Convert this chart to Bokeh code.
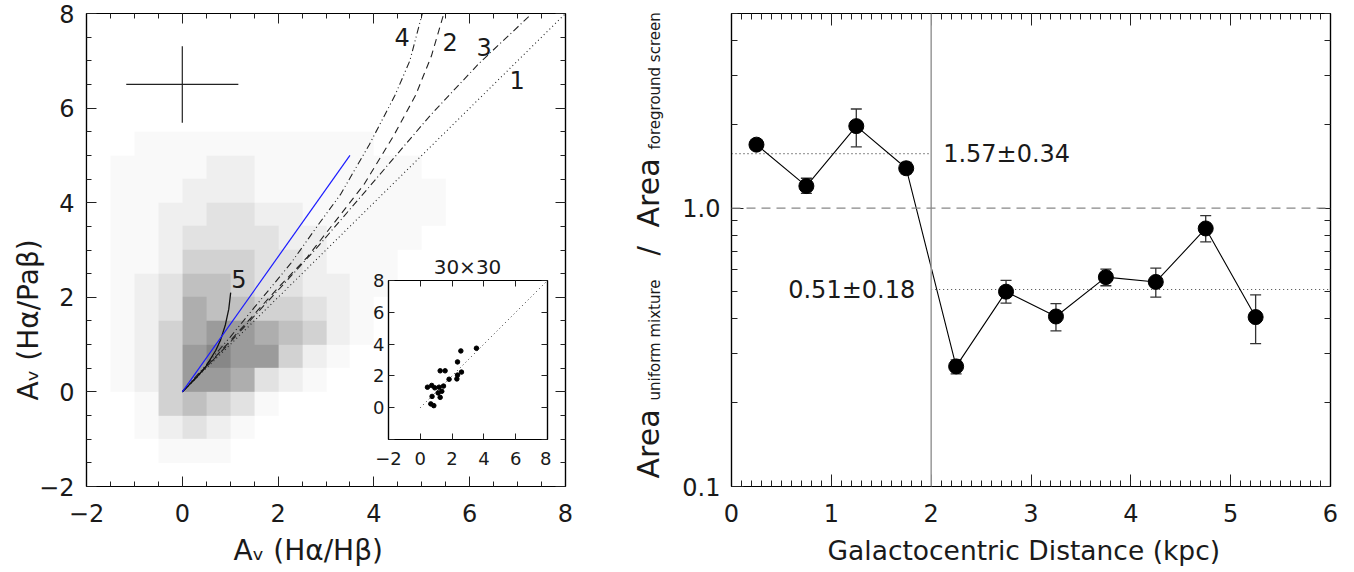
import numpy as np
from bokeh.plotting import figure
from bokeh.layouts import row
from bokeh.models import (Range1d, LinearAxis, LogAxis, Whisker, ColumnDataSource,
                          FixedTicker, Span, TeeHead, LinearColorMapper)
from bokeh.core.properties import value
from bokeh.embed import file_html
from bokeh.resources import INLINE

FONT = "DejaVu Sans"
TXT = "#1a1a1a"
PAGE_W, PAGE_H = 1352, 570
LEFT_W = 600

# ---------------- left panel data ----------------
# density of pixels (darkness 0..9), 0.5-unit cells, rows listed top (y=5.25) to bottom (y=-1.25)
dens_x0, dens_y0, dens_cell = -2.0, -1.5, 0.5
dens_rows = [
    "00111111111100000",
    "01111221111111000",
    "01112221111111100",
    "01122332211111100",
    "01123333221111000",
    "01124443321110000",
    "01235543322110000",
    "01236554432100000",
    "01246776542100000",
    "01247877421000000",
    "01247763210000000",
    "00145431000000000",
    "00123210000000000",
    "00011100000000000",
]
gray_levels = [255, 249, 239, 226, 210, 192, 174, 155, 135, 115]

err_center = [0.0, 6.5]
err_half = [1.17, 0.81]

blue_x = [0.0, 3.5]
blue_y = [0.0, 5.0]
c1_x = [0.0, 8.0]
c1_y = [0.0, 8.0]
c2_x = [0.0, 0.5, 1.0, 1.5, 2.0, 2.61, 3.15, 3.79, 4.42, 4.87, 5.2, 5.46]
c2_y = [0.0, 0.53, 1.08, 1.64, 2.2, 2.85, 3.55, 4.38, 5.43, 6.27, 7.1, 8.0]
c3_x = [0.0, 1.0, 2.0, 2.82, 4.0, 5.18, 6.2, 7.27]
c3_y = [0.0, 1.05, 2.15, 3.06, 4.45, 5.85, 6.95, 7.97]
c4_x = [0.0, 0.5, 1.0, 1.5, 2.26, 2.85, 3.30, 3.90, 4.44, 4.75, 5.01]
c4_y = [0.0, 0.57, 1.16, 1.78, 2.71, 3.55, 4.17, 5.22, 6.27, 7.0, 8.0]
c5_x = [0.0, 0.3, 0.5, 0.7, 0.8, 0.9, 0.97, 1.01]
c5_y = [0.0, 0.31, 0.55, 0.88, 1.1, 1.42, 1.75, 2.1]
curve_labels = ["4", "2", "3", "1", "5"]
curve_label_x = [4.59, 5.59, 6.30, 6.99, 1.18]
curve_label_y = [7.50, 7.39, 7.29, 6.60, 2.38]

left_ticks = [-2, 0, 2, 4, 6, 8]
left_minor = list(np.arange(-2, 8.01, 0.5))

# inset (30x30 binning)
inset_x = [0.45, 0.72, 0.91, 1.18, 1.46, 1.25, 1.56, 1.81, 1.12, 1.35, 0.74, 1.25, 0.66, 0.85,
           2.34, 2.55, 3.53, 2.59, 2.34, 2.30]
inset_y = [1.29, 1.40, 1.25, 1.29, 1.36, 2.32, 2.32, 1.79, 0.93, 1.03, 0.71, 0.65, 0.24, 0.13,
           2.88, 3.57, 3.74, 2.24, 2.05, 1.81]
inset_ticks = [-2, 0, 2, 4, 6, 8]

# ---------------- right panel data ----------------
dist = [0.25, 0.75, 1.25, 1.75, 2.25, 2.75, 3.25, 3.75, 4.25, 4.75, 5.25]
ratio = [1.69, 1.20, 1.97, 1.39, 0.270, 0.501, 0.408, 0.565, 0.543, 0.845, 0.406]
ratio_hi = [1.72, 1.28, 2.27, 1.46, 0.285, 0.550, 0.454, 0.604, 0.609, 0.940, 0.488]
ratio_lo = [1.66, 1.13, 1.66, 1.33, 0.254, 0.456, 0.362, 0.526, 0.479, 0.756, 0.326]
inner_mean, outer_mean = 1.57, 0.51
inner_text, outer_text = "1.57±0.34", "0.51±0.18"
split_r = 2.0
right_xticks = [0, 1, 2, 3, 4, 5, 6]
right_xminor = list(np.arange(0, 6.001, 0.1))
right_yticks = [0.1, 1.0]
right_yminor = [0.2, 0.3, 0.4, 0.5, 0.6, 0.7, 0.8, 0.9, 2, 3, 4, 5]

# ---------------- axis titles (text, page anchor x/y, rotation, size) ----------------
titles = [
    ("Aᵥ (Hα/Paβ)", 28, 400, np.pi / 2, "28px"),
    ("Aᵥ (Hα/Hβ)", 233, 550, 0.0, "28px"),
    ("Galactocentric Distance (kpc)", 827, 550, 0.0, "26.5px"),
    ("Area", 648, 478, np.pi / 2, "30px"),
    ("uniform mixture", 654, 400, np.pi / 2, "15px"),
    ("/", 648, 255, np.pi / 2, "28px"),
    ("Area", 648, 227, np.pi / 2, "30px"),
    ("foreground screen", 654, 149, np.pi / 2, "15px"),
]
inset_title = ("30×30", 467, 266, "20px")


def style_axis(ax, ticks, minor, show=True, fs="24px", standoff=12, overrides=None,
               tin=10, mtin=5):
    ax.ticker = FixedTicker(ticks=ticks, minor_ticks=minor)
    ax.major_tick_in = tin
    ax.major_tick_out = 0
    ax.minor_tick_in = mtin
    ax.minor_tick_out = 0
    ax.axis_line_color = "black"
    ax.axis_line_width = 1.2
    ax.major_tick_line_color = "#222"
    ax.minor_tick_line_color = "#222"
    ax.major_label_text_font = FONT
    if show:
        ax.major_label_text_color = TXT
        ax.major_label_text_font_size = fs
        ax.major_label_standoff = standoff
    else:
        ax.major_label_text_color = None
        ax.major_label_text_font_size = "1px"
        ax.major_label_standoff = -20
    if overrides:
        ax.major_label_overrides = overrides


# ================= left figure =================
p1 = figure(width=LEFT_W, height=PAGE_H, x_range=Range1d(-2, 8), y_range=Range1d(-2, 8),
            output_backend="svg", toolbar_location=None, title=None,
            min_border_left=86, min_border_right=35, min_border_top=13,
            min_border_bottom=PAGE_H - 486,
            background_fill_color="white", border_fill_color="white")
p1.xgrid.visible = False
p1.ygrid.visible = False
p1.outline_line_color = "black"
p1.outline_line_width = 1.2
neg = {-2: "−2"}
style_axis(p1.xaxis[0], left_ticks, left_minor, standoff=17, overrides=neg)
style_axis(p1.yaxis[0], left_ticks, left_minor, standoff=12, overrides=neg)
ax_t = LinearAxis()
style_axis(ax_t, left_ticks, left_minor, show=False)
p1.add_layout(ax_t, "above")
ax_r = LinearAxis()
style_axis(ax_r, left_ticks, left_minor, show=False)
p1.add_layout(ax_r, "right")

dens = np.array([[int(c) for c in r] for r in dens_rows[::-1]], dtype=float)
mapper = LinearColorMapper(palette=["#%02x%02x%02x" % (g, g, g) for g in gray_levels],
                           low=-0.5, high=9.5)
p1.image(image=[dens], x=dens_x0, y=dens_y0, dw=dens_cell * dens.shape[1],
         dh=dens_cell * dens.shape[0], color_mapper=mapper, level="image")

p1.segment(x0=[err_center[0] - err_half[0], err_center[0]],
           y0=[err_center[1], err_center[1] - err_half[1]],
           x1=[err_center[0] + err_half[0], err_center[0]],
           y1=[err_center[1], err_center[1] + err_half[1]],
           line_color="#222", line_width=1.2)

p1.line(c1_x, c1_y, line_color="#222", line_width=1.1, line_dash="1 3")
p1.line(c3_x, c3_y, line_color="#222", line_width=1.1, line_dash="7 3 1 3")
p1.line(c2_x, c2_y, line_color="#222", line_width=1.1, line_dash="7 5")
p1.line(c4_x, c4_y, line_color="#222", line_width=1.1, line_dash="7 3 1 3 1 3")
p1.line(c5_x, c5_y, line_color="#111", line_width=1.3)
p1.line(blue_x, blue_y, line_color="#1a1aff", line_width=1.2)
p1.text(x=curve_label_x, y=curve_label_y, text=curve_labels, text_font=value(FONT),
        text_font_size="24px", text_color=TXT, text_align="center", text_baseline="middle")

# ================= right figure =================
p2 = figure(width=PAGE_W - LEFT_W, height=PAGE_H, x_range=Range1d(0, 6),
            y_range=Range1d(0.1, 5), y_axis_type="log", output_backend="svg",
            toolbar_location=None, title=None,
            min_border_left=731 - LEFT_W, min_border_right=PAGE_W - 1330, min_border_top=5,
            min_border_bottom=PAGE_H - 486,
            background_fill_color="white", border_fill_color="white")
p2.xgrid.visible = False
p2.ygrid.visible = False
p2.outline_line_color = "black"
p2.outline_line_width = 1.2
style_axis(p2.xaxis[0], right_xticks, right_xminor, standoff=17, tin=12, mtin=6)
style_axis(p2.yaxis[0], right_yticks, right_yminor, standoff=11,
           overrides={0.1: "0.1", 1.0: "1.0"}, tin=12, mtin=6)
bt = LinearAxis()
style_axis(bt, right_xticks, right_xminor, show=False, tin=12, mtin=6)
p2.add_layout(bt, "above")
br = LogAxis()
style_axis(br, right_yticks, right_yminor, show=False, tin=12, mtin=6)
p2.add_layout(br, "right")

p2.add_layout(Span(location=split_r, dimension="height", line_color="#999", line_width=1.5))
p2.add_layout(Span(location=1.0, dimension="width", line_color="#888", line_width=1.3,
                   line_dash="9 6"))
p2.line([0, split_r], [inner_mean, inner_mean], line_color="#444", line_width=1.2,
        line_dash="1 3")
p2.line([split_r, 6], [outer_mean, outer_mean], line_color="#444", line_width=1.2,
        line_dash="1 3")

src = ColumnDataSource(dict(x=dist, y=ratio, hi=ratio_hi, lo=ratio_lo))
p2.add_layout(Whisker(source=src, base="x", upper="hi", lower="lo", line_color="#333",
                      line_width=1.3,
                      upper_head=TeeHead(size=11, line_color="#333", line_width=1.3),
                      lower_head=TeeHead(size=11, line_color="#333", line_width=1.3)))
p2.line("x", "y", source=src, line_color="black", line_width=1.1)
p2.scatter("x", "y", source=src, size=15, color="black")

p2.text(x=[2.12], y=[inner_mean], text=[inner_text], text_font=value(FONT),
        text_font_size="24px", text_color=TXT, text_align="left", text_baseline="middle")
p2.text(x=[1.84], y=[outer_mean], text=[outer_text], text_font=value(FONT),
        text_font_size="24px", text_color=TXT, text_align="right", text_baseline="middle")

# ================= inset (own root, placed over the left panel) =================
IN_L, IN_T, IN_W, IN_H = 356, 254, 195, 215
inset = figure(width=IN_W, height=IN_H, x_range=Range1d(-2, 8), y_range=Range1d(-2, 8),
               output_backend="svg", toolbar_location=None, title=None,
               min_border_left=32, min_border_right=4, min_border_top=26, min_border_bottom=30,
               background_fill_color="white", border_fill_alpha=0)
inset.styles = {"position": "absolute", "left": f"{IN_L}px", "top": f"{IN_T}px"}
inset.xgrid.visible = False
inset.ygrid.visible = False
inset.outline_line_color = "black"
inset.outline_line_width = 1.2
style_axis(inset.xaxis[0], inset_ticks, [], fs="18px", standoff=12, overrides={-2: "−2"},
           tin=6, mtin=0)
style_axis(inset.yaxis[0], inset_ticks, [], fs="18px", standoff=4, overrides={-2: ""},
           tin=6, mtin=0)
it = LinearAxis()
style_axis(it, inset_ticks, [], show=False, tin=6, mtin=0)
inset.add_layout(it, "above")
ir = LinearAxis()
style_axis(ir, inset_ticks, [], show=False, tin=6, mtin=0)
inset.add_layout(ir, "right")
inset.line(c1_x, c1_y, line_color="#333", line_width=1, line_dash="1 3")
inset.scatter(inset_x, inset_y, size=4.5, color="black")

# ================= transparent overlay holding the axis titles (own root) =================
ov = figure(width=PAGE_W, height=PAGE_H, x_range=Range1d(0, PAGE_W), y_range=Range1d(0, PAGE_H),
            output_backend="svg", toolbar_location=None, title=None,
            x_axis_location=None, y_axis_location=None, min_border=0,
            background_fill_alpha=0, border_fill_alpha=0, outline_line_color=None)
ov.styles = {"position": "absolute", "left": "0px", "top": "0px", "pointer-events": "none"}
ov.grid.visible = False
for txt, tx, ty, ang, fs in titles:
    ov.text(x=[tx], y=[PAGE_H - ty], text=[txt], angle=ang, text_font=value(FONT),
            text_font_size=fs, text_color=TXT, text_align="left", text_baseline="alphabetic")
ov.text(x=[inset_title[1]], y=[PAGE_H - inset_title[2]], text=[inset_title[0]],
        text_font=value(FONT), text_font_size=inset_title[3], text_color=TXT,
        text_align="center", text_baseline="alphabetic")

main = row(p1, p2)
open("out.html", "w").write(file_html([main, inset, ov], INLINE))
